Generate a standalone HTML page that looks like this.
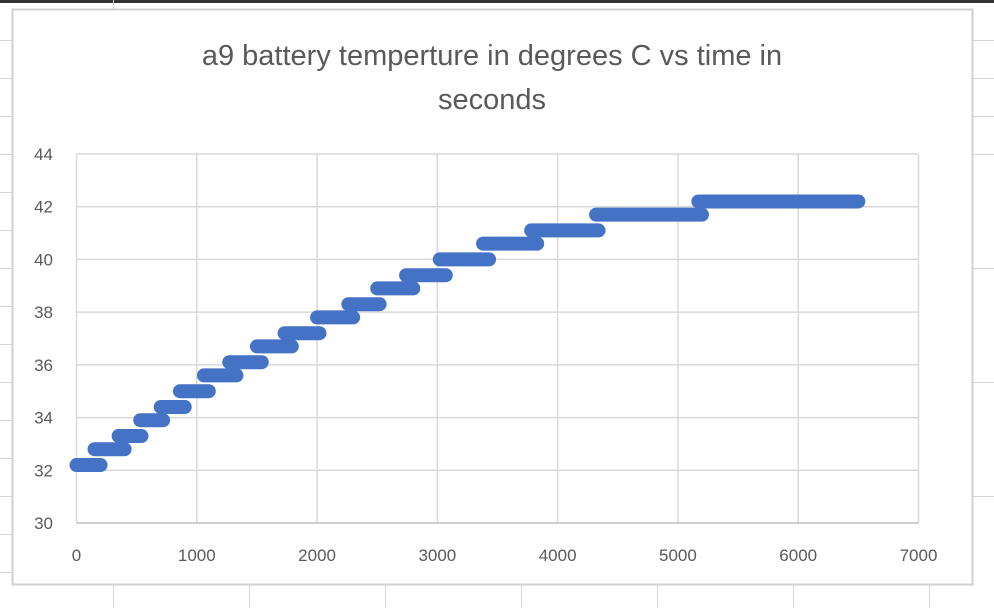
<!DOCTYPE html>
<html><head><meta charset="utf-8"><style>
body{margin:0;width:994px;height:607px;background:#fff;overflow:hidden;font-family:"Liberation Sans",sans-serif}
</style></head><body>
<svg width="994" height="607" id="svg">
<rect x="0" y="0" width="994" height="3" fill="#333"/>
<g stroke="#d4d4d4" stroke-width="1">
<line x1="0" y1="40.5" x2="12" y2="40.5"/><line x1="0" y1="78.5" x2="12" y2="78.5"/>
<line x1="0" y1="116.5" x2="12" y2="116.5"/><line x1="0" y1="154.5" x2="12" y2="154.5"/>
<line x1="0" y1="192.5" x2="12" y2="192.5"/><line x1="0" y1="230.5" x2="12" y2="230.5"/>
<line x1="0" y1="268.5" x2="12" y2="268.5"/><line x1="0" y1="306.5" x2="12" y2="306.5"/>
<line x1="0" y1="344.5" x2="12" y2="344.5"/><line x1="0" y1="382.5" x2="12" y2="382.5"/>
<line x1="0" y1="420.5" x2="12" y2="420.5"/><line x1="0" y1="458.5" x2="12" y2="458.5"/>
<line x1="0" y1="496.5" x2="12" y2="496.5"/><line x1="0" y1="534.5" x2="12" y2="534.5"/>
<line x1="0" y1="572.5" x2="12" y2="572.5"/>
<line x1="113.5" y1="0" x2="113.5" y2="9"/><line x1="113.5" y1="585" x2="113.5" y2="607"/>
<line x1="249.5" y1="585" x2="249.5" y2="607"/><line x1="385.5" y1="585" x2="385.5" y2="607"/>
<line x1="521.5" y1="585" x2="521.5" y2="607"/><line x1="657.5" y1="585" x2="657.5" y2="607"/>
<line x1="793.5" y1="585" x2="793.5" y2="607"/><line x1="929.5" y1="585" x2="929.5" y2="607"/>
<line x1="972" y1="40.5" x2="994" y2="40.5"/><line x1="972" y1="78.5" x2="994" y2="78.5"/>
<line x1="972" y1="116.5" x2="994" y2="116.5"/><line x1="972" y1="154.5" x2="994" y2="154.5"/>
<line x1="972" y1="268.5" x2="994" y2="268.5"/><line x1="972" y1="382.5" x2="994" y2="382.5"/>
<line x1="972" y1="496.5" x2="994" y2="496.5"/>
</g>
<rect x="12.5" y="9.5" width="960" height="575" fill="#fff" stroke="#d0d0d0" stroke-width="2"/>
<text x="492" y="65" text-anchor="middle" font-size="29" fill="#595959">a9 battery temperture in degrees C vs time in</text>
<text x="492" y="109" text-anchor="middle" font-size="29" fill="#595959">seconds</text>
<g id="grid"></g><g id="series"></g><g id="labels"></g>
</svg>
<script>
const xTicks=[0,1000,2000,3000,4000,5000,6000,7000];
const yTicks=[30,32,34,36,38,40,42,44];
const segStart=[0,150,350,530,700,860,1060,1270,1500,1730,2000,2260,2500,2740,3020,3380,3780,4320,5170];
const segEnd=[200,400,540,720,900,1100,1330,1540,1790,2020,2300,2520,2800,3070,3430,3830,4340,5200,6500];
const segTemp=[32.2,32.8,33.3,33.9,34.4,35.0,35.6,36.1,36.7,37.2,37.8,38.3,38.9,39.4,40.0,40.6,41.1,41.7,42.2];
const X=v=>76.5+v*(918.5-76.5)/7000;
const Y=v=>523-(v-30)*(523-154)/14;
const NS="http://www.w3.org/2000/svg";
const g=document.getElementById('grid'),s=document.getElementById('series'),l=document.getElementById('labels');
function mk(tag,attrs,parent){const e=document.createElementNS(NS,tag);for(const k in attrs)e.setAttribute(k,attrs[k]);parent.appendChild(e);return e;}
xTicks.forEach(v=>{
 const ln=mk('line',{x1:X(v),x2:X(v),y1:Y(44),y2:Y(30),stroke:'#d9d9d9','stroke-width':1.5},g);
 
 
 const t=mk('text',{x:X(v),y:561,'text-anchor':'middle','font-size':17,fill:'#595959'},l);t.textContent=v;
 
 
});
yTicks.forEach(v=>{
 const ln=mk('line',{x1:X(0),x2:X(7000),y1:Y(v),y2:Y(v),stroke:v===30?'#bfbfbf':'#d9d9d9','stroke-width':1.5},g);
 
 
 const t=mk('text',{x:53,y:Y(v)+6,'text-anchor':'end','font-size':17,fill:'#595959'},l);t.textContent=v;
 
 
});
segTemp.forEach((v,i)=>{
 const ln=mk('line',{x1:X(segStart[i]),x2:X(segEnd[i]),y1:Y(v),y2:Y(v),stroke:'#4472c4','stroke-width':14,'stroke-linecap':'round'},s);
 
 
});
</script>
</body></html>
